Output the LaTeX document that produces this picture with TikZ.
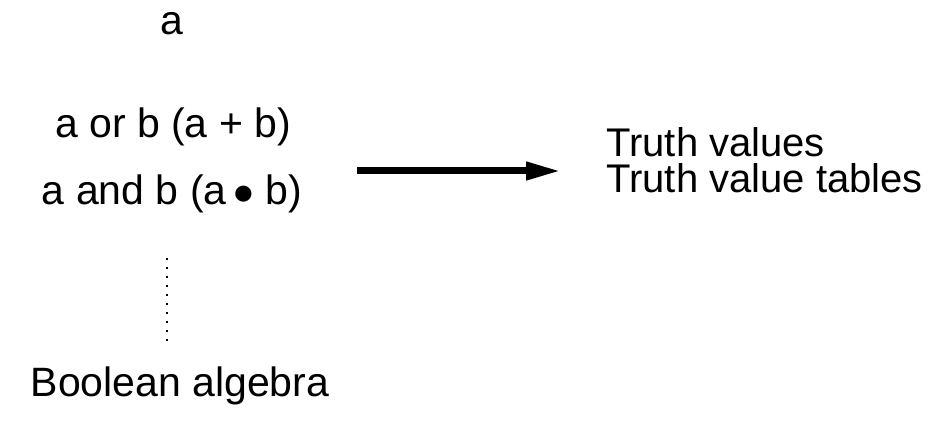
\documentclass[tikz,border=0pt]{standalone}
\usepackage{fontspec}
\setmainfont{Liberation Sans}
\usetikzlibrary{arrows.meta}

\begin{document}
\begin{tikzpicture}[x=0.5pt,y=-0.5pt,
                    txt/.style={inner sep=0pt,anchor=base,font=\fontsize{20.5}{24}\selectfont},
                    bigarrow/.style={-{Triangle[length=17.5pt,width=8.5pt]},line width=3.5pt},
                    dots/.style={line width=1pt,dash pattern=on 1pt off 3.5pt}]
  \useasboundingbox (0,0) rectangle (940,431);

  \node[txt]   (a)      at (172,35)   {a};
  \node[txt]   (aorb)   at (173,138)  {a or b (a + b)};
  \node[txt]   (aandb)  at (172,205)  {a and b (a$\,\bullet$ b)};
  \node[txt]   (bool)   at (180,397)  {Boolean algebra};
  \node[txt,anchor=base west,align=left,font=\fontsize{20}{18}\selectfont]
               (truth)  at (606,193)  {Truth values\\Truth value tables};

  \coordinate (dtop) at (167,258);
  \coordinate (dbot) at (167,342);
  \coordinate (from) at (357,171);
  \coordinate (to)   at (561,171);

  \draw[dots] (dtop) -- (dbot);
  \draw[bigarrow] (from) -- (to);
\end{tikzpicture}
\end{document}
